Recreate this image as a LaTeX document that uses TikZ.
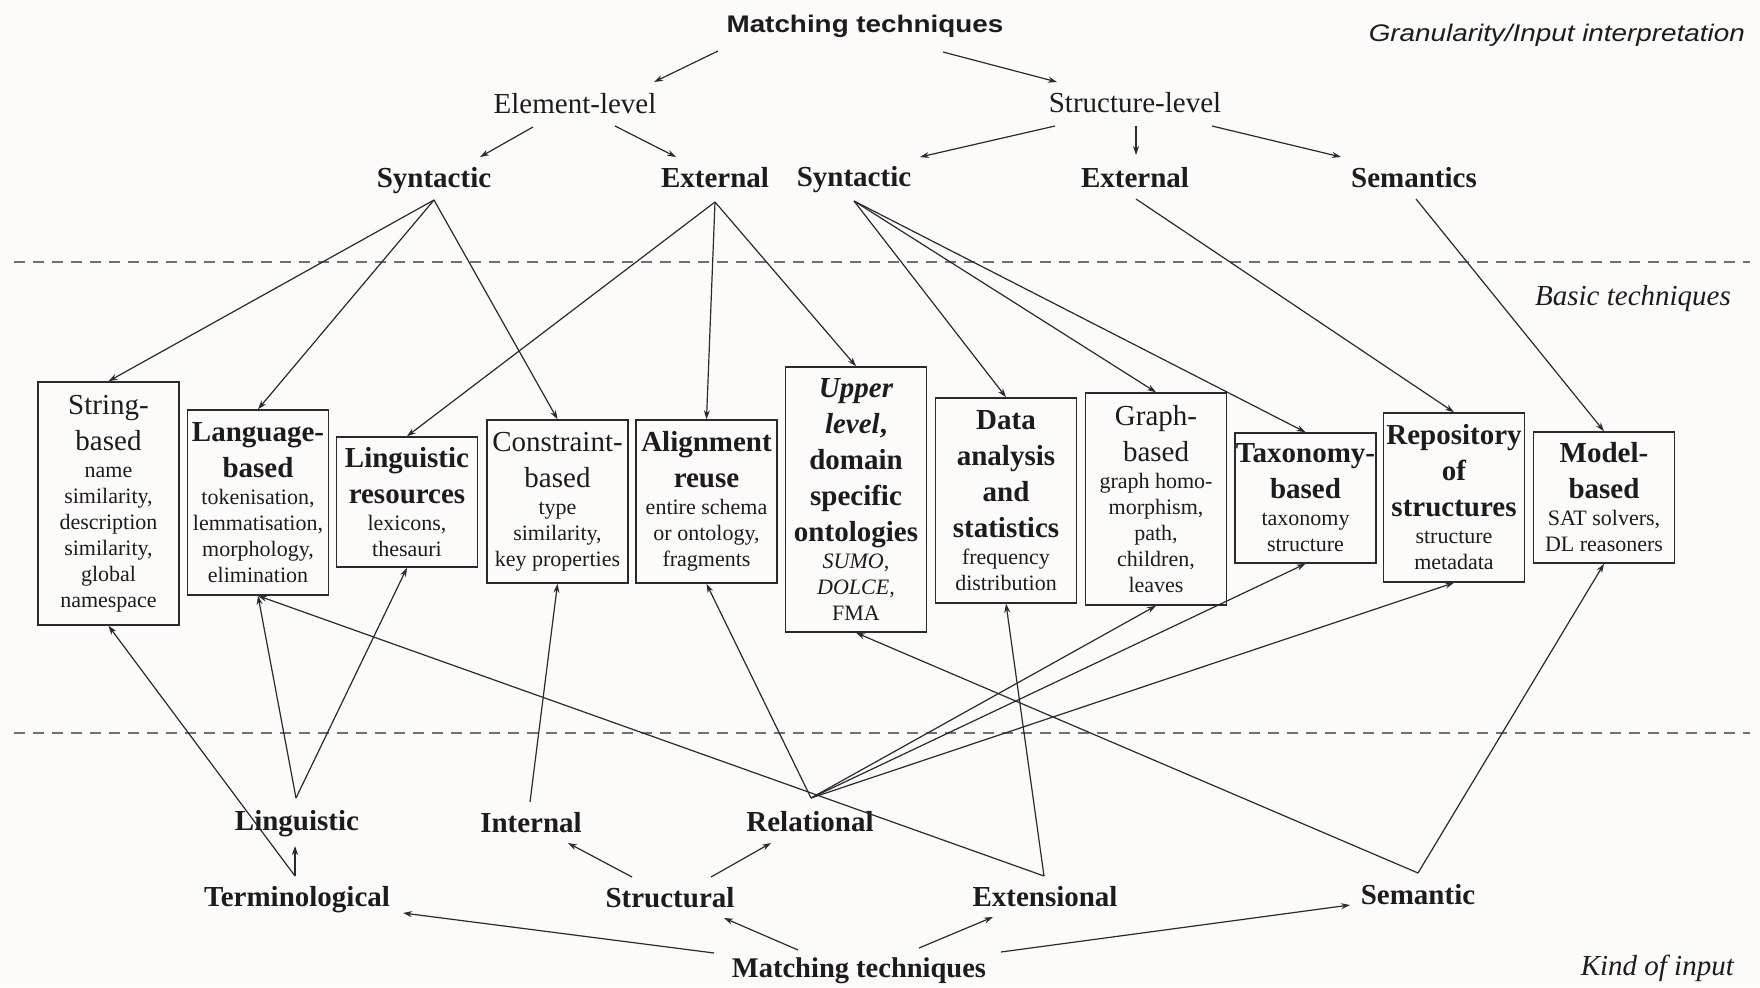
\documentclass[tikz,border=0pt]{standalone}
\usepackage{fontspec}
\setmainfont{Liberation Serif}
\newfontfamily\headsans[FakeStretch=1.16]{Liberation Sans}
\usetikzlibrary{arrows.meta,calc}

\definecolor{ink}{HTML}{1C1C1C}
\definecolor{wire}{HTML}{2A2A2A}
\definecolor{rulegray}{HTML}{707070}
\definecolor{paper}{HTML}{FCFBF9}

\newcommand{\boxdesc}{\fontsize{22}{26}\selectfont\mdseries\upshape}

\tikzset{
  technique/.style={draw=wire, line width=1.5pt, inner sep=0pt,
    minimum width=141pt, align=center, text=ink,
    font=\fontsize{29}{36}\selectfont},
  lvl/.style={inner sep=0pt, anchor=base, text=ink,
    font=\fontsize{29}{35}\selectfont},
  lvlb/.style={lvl, font=\fontsize{29}{35}\selectfont\bfseries},
  side/.style={inner sep=0pt, anchor=base east, text=ink,
    font=\fontsize{29}{35}\selectfont\itshape},
  link/.style={draw=wire, line width=1.2pt,
    -{Stealth[length=9pt,width=6pt]}},
  divider/.style={draw=rulegray, line width=1.6pt, dash pattern=on 11pt off 8pt}
}

\begin{document}
\begin{tikzpicture}[x=1pt,y=-1pt]
\fill[paper] (0,0) rectangle (1760,987);
\useasboundingbox (0,0) rectangle (1760,987);

% layer separators
\draw[divider] (14,262) -- (1750,262);
\draw[divider] (14,733) -- (1750,733);

% side captions
\node[inner sep=0pt, anchor=base east, text=ink,
      font=\headsans\fontsize{24}{30}\selectfont\itshape] (cap1) at (1745,42)
      {Granularity/Input interpretation};
\node[side] (cap2) at (1731,305) {Basic techniques};
\node[side] (cap3) at (1734,975) {Kind of input};

% upper classification
\node[inner sep=0pt, anchor=base, text=ink,
      font=\headsans\fontsize{24}{30}\selectfont\bfseries] (mtTop) at (865,33)
      {Matching techniques};
\node[lvl] (el) at (575,114) {Element-level};
\node[lvl] (sl) at (1135,113) {Structure-level};
\node[lvlb] (synL) at (434,187) {Syntactic};
\node[lvlb] (extL) at (715,188) {External};
\node[lvlb] (synR) at (854,186) {Syntactic};
\node[lvlb] (extR) at (1135,187) {External};
\node[lvlb] (semR) at (1414,187) {Semantics};

% lower classification
\node[lvlb] (ling) at (297,830) {Linguistic};
\node[lvlb] (intl) at (531,832) {Internal};
\node[lvlb] (rel) at (810,831) {Relational};
\node[lvlb] (term) at (297,906) {Terminological};
\node[lvlb] (struc) at (670,907) {Structural};
\node[lvlb] (extn) at (1045,906) {Extensional};
\node[lvlb] (semB) at (1418,904) {Semantic};
\node[lvlb, font=\fontsize{28.5}{34}\selectfont\bfseries] (mtBot) at (859,977) {Matching techniques};

% basic techniques
\node[technique, minimum height=243pt] (string) at (108.5,503.5)
  {String-\\based\\[-9pt]\boxdesc name\\[-10pt]\boxdesc similarity,\\[-10pt]\boxdesc description\\[-10pt]\boxdesc similarity,\\[-10pt]\boxdesc global\\[-10pt]\boxdesc namespace};
\node[technique, minimum height=185pt] (language) at (258,502.5)
  {\bfseries Language-\\\bfseries based\\[-9pt]\boxdesc tokenisation,\\[-10pt]\boxdesc lemmatisation,\\[-10pt]\boxdesc morphology,\\[-10pt]\boxdesc elimination};
\node[technique, minimum height=130pt] (lingres) at (407,502)
  {\bfseries Linguistic\\\bfseries resources\\[-9pt]\boxdesc lexicons,\\[-10pt]\boxdesc thesauri};
\node[technique, minimum height=163pt] (constraint) at (557.5,501.5)
  {Constraint-\\based\\[-9pt]\boxdesc type\\[-10pt]\boxdesc similarity,\\[-10pt]\boxdesc key properties};
\node[technique, minimum height=163pt] (alignment) at (706.5,501.5)
  {\bfseries Alignment\\\bfseries reuse\\[-9pt]\boxdesc entire schema\\[-10pt]\boxdesc or ontology,\\[-10pt]\boxdesc fragments};
\node[technique, minimum height=265pt] (upper) at (856,499.5)
  {\bfseries\itshape Upper\\\bfseries{\itshape level},\\\bfseries domain\\\bfseries specific\\\bfseries ontologies\\[-9pt]\boxdesc\itshape SUMO,\\[-10pt]\boxdesc\itshape DOLCE,\\[-10pt]\boxdesc FMA};
\node[technique, minimum height=205pt] (data) at (1006,500.5)
  {\bfseries Data\\\bfseries analysis\\\bfseries and\\\bfseries statistics\\[-9pt]\boxdesc frequency\\[-10pt]\boxdesc distribution};
\node[technique, minimum height=212pt] (graph) at (1156,499)
  {Graph-\\based\\[-9pt]\boxdesc graph homo-\\[-10pt]\boxdesc morphism,\\[-10pt]\boxdesc path,\\[-10pt]\boxdesc children,\\[-10pt]\boxdesc leaves};
\node[technique, minimum height=130pt] (taxonomy) at (1305.5,498)
  {\bfseries Taxonomy-\\\bfseries based\\[-9pt]\boxdesc taxonomy\\[-10pt]\boxdesc structure};
\node[technique, minimum height=169pt] (repository) at (1454,497.5)
  {\bfseries Repository\\\bfseries of\\\bfseries structures\\[-9pt]\boxdesc structure\\[-10pt]\boxdesc metadata};
\node[technique, minimum height=131pt] (model) at (1604,497.5)
  {\bfseries Model-\\\bfseries based\\[-9pt]\boxdesc SAT solvers,\\[-10pt]\boxdesc DL reasoners};

% granularity tree
\draw[link] ($(mtTop.base)+(-147,18)$) -- ($(el.base)+(79,-32)$);
\draw[link] ($(mtTop.base)+(78,19)$) -- ($(sl.base)+(-78,-31)$);
\draw[link] ($(el.base)+(-42,13)$) -- ($(synL.base)+(46,-30)$);
\draw[link] ($(el.base)+(40,12)$) -- ($(extL.base)+(-39,-31)$);
\draw[link] ($(sl.base)+(-80,13)$) -- ($(synR.base)+(66,-29)$);
\draw[link] ($(sl.base)+(1,13)$) -- ($(extR.base)+(1,-32)$);
\draw[link] ($(sl.base)+(77,13)$) -- ($(semR.base)+(-73,-30)$);

% granularity classes to techniques
\draw[link] ($(synL.base)+(0,13)$) -- (string.north);
\draw[link] ($(synL.base)+(0,13)$) -- (language.north);
\draw[link] ($(synL.base)+(0,13)$) -- (constraint.north);
\draw[link] ($(extL.base)+(0,14)$) -- (lingres.north);
\draw[link] ($(extL.base)+(0,14)$) -- (alignment.north);
\draw[link] ($(extL.base)+(0,14)$) -- (upper.north);
\draw[link] ($(synR.base)+(0,15)$) -- (data.north);
\draw[link] ($(synR.base)+(0,15)$) -- (graph.north);
\draw[link] ($(synR.base)+(0,15)$) -- (taxonomy.north);
\draw[link] ($(extR.base)+(1,12)$) -- (repository.north);
\draw[link] ($(semR.base)+(2,12)$) -- (model.north);

% kind-of-input classes to techniques
\draw[link] ($(term.base)+(-2,-30)$) -- (string.south);
\draw[link] ($(term.base)+(-2,-30)$) -- ($(ling.base)+(-2,16)$);
\draw[link] ($(ling.base)+(-1,-32)$) -- (language.south);
\draw[link] ($(ling.base)+(-1,-32)$) -- (lingres.south);
\draw[link] ($(intl.base)+(-1,-30)$) -- (constraint.south);
\draw[link] ($(rel.base)+(1,-33)$) -- (alignment.south);
\draw[link] ($(rel.base)+(1,-33)$) -- (graph.south);
\draw[link] ($(rel.base)+(1,-33)$) -- (taxonomy.south);
\draw[link] ($(rel.base)+(1,-33)$) -- (repository.south);
\draw[link] ($(extn.base)+(-1,-30)$) -- (language.south);
\draw[link] ($(extn.base)+(-1,-30)$) -- (data.south);
\draw[link] ($(semB.base)+(0,-31)$) -- (upper.south);
\draw[link] ($(semB.base)+(0,-31)$) -- (model.south);

% kind-of-input tree
\draw[link] ($(struc.base)+(-38,-30)$) -- ($(intl.base)+(37,11)$);
\draw[link] ($(struc.base)+(41,-30)$) -- ($(rel.base)+(-39,12)$);
\draw[link] ($(mtBot.base)+(-145,-24)$) -- ($(term.base)+(106,7)$);
\draw[link] ($(mtBot.base)+(-61,-27)$) -- ($(struc.base)+(54,11)$);
\draw[link] ($(mtBot.base)+(60,-29)$) -- ($(extn.base)+(-52,11)$);
\draw[link] ($(mtBot.base)+(142,-25)$) -- ($(semB.base)+(-68,1)$);
\end{tikzpicture}
\end{document}
